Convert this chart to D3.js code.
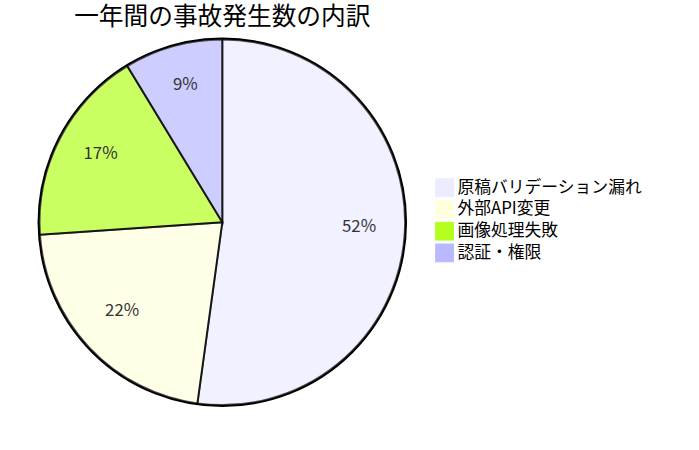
<!DOCTYPE html>
<html>
<head>
<meta charset="utf-8">
<script src="https://cdn.jsdelivr.net/npm/d3@7"></script>
<style>
  html, body { margin: 0; padding: 0; background: #fff; }
  svg { display: block; }
  text { font-family: "Noto Sans CJK JP", "Noto Sans", sans-serif; }
</style>
</head>
<body>
<svg id="chart" width="699" height="450"></svg>
<script>
const title = "一年間の事故発生数の内訳";
const categories = ["原稿バリデーション漏れ", "外部API変更", "画像処理失敗", "認証・権限"];
const values = [12, 5, 4, 2];
const colors = ["#ECECFF", "#ffffde", "hsl(80, 100%, 56.2745098039%)", "hsl(240, 100%, 86.2745098039%)"];

const scaleFactor = 0.988;
const pieWidth = 450, height = 450, margin = 40;
const radius = Math.min(pieWidth, height) / 2 - margin;

const svg = d3.select("#chart");
const root = svg.append("g").attr("transform", `scale(${scaleFactor})`);
const g = root.append("g").attr("transform", `translate(${pieWidth / 2},${height / 2})`);

const data = categories.map((c, i) => ({ label: c, value: values[i] }));
const color = d3.scaleOrdinal().domain(categories).range(colors);
const pie = d3.pie().value(d => d.value).sort(null);
const arcs = pie(data);
const total = d3.sum(values);

const arc = d3.arc().innerRadius(0).outerRadius(radius);
const labelArc = d3.arc().innerRadius(radius * 0.75).outerRadius(radius * 0.75);

g.append("circle")
  .attr("cx", 0).attr("cy", 0)
  .attr("r", radius + 1)
  .attr("fill", "none")
  .attr("stroke", "black")
  .attr("stroke-width", 2);

g.selectAll("path.slice")
  .data(arcs)
  .enter().append("path")
  .attr("class", "slice")
  .attr("d", arc)
  .attr("fill", d => color(d.data.label))
  .attr("opacity", 0.7)
  .attr("stroke", "black")
  .attr("stroke-width", 2);

g.selectAll("text.slice-label")
  .data(arcs)
  .enter().append("text")
  .attr("class", "slice-label")
  .attr("transform", d => `translate(${labelArc.centroid(d)})`)
  .attr("text-anchor", "middle")
  .attr("fill", "#333")
  .style("font-size", "17px")
  .text(d => ((d.data.value / total) * 100).toFixed(0) + "%");

g.append("text")
  .attr("x", 0)
  .attr("y", -(height - 50) / 2)
  .attr("text-anchor", "middle")
  .attr("fill", "black")
  .style("font-size", "25px")
  .text(title);

const rectSize = 18, spacing = 4;
const legend = g.selectAll("g.legend")
  .data(categories)
  .enter().append("g")
  .attr("class", "legend")
  .attr("transform", (d, i) => {
    const h = rectSize + spacing;
    const offset = h * categories.length / 2;
    return `translate(${12 * rectSize},${i * h - offset})`;
  });

legend.append("rect")
  .attr("width", rectSize)
  .attr("height", rectSize)
  .attr("fill", d => color(d))
  .attr("stroke", d => color(d));

legend.append("text")
  .attr("x", rectSize + spacing)
  .attr("y", rectSize - spacing)
  .attr("fill", "black")
  .style("font-size", "17px")
  .text(d => d);
</script>
</body>
</html>
